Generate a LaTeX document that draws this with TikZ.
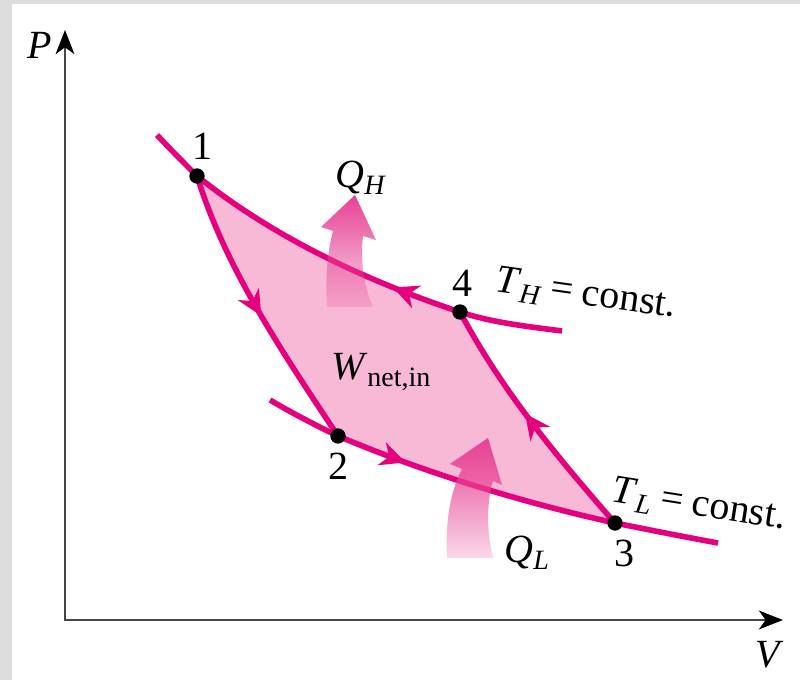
\documentclass[tikz,border=0pt]{standalone}
\usepackage{fontspec}
\setmainfont{Liberation Serif}
\usetikzlibrary{arrows.meta,decorations.markings,fadings}
\definecolor{mag}{RGB}{230,0,126}
\definecolor{pinkfill}{RGB}{247,185,214}
\definecolor{qpink}{RGB}{232,65,148}
\definecolor{axisgray}{RGB}{70,70,70}
\definecolor{framegray}{RGB}{221,221,221}
\tikzfading[name=qfade, top color=transparent!0, bottom color=transparent!80]
\tikzset{
  cyc/.style={draw=mag, line width=4.2pt},
  dot/.style={circle, fill=black, inner sep=0pt, minimum size=11.5pt},
  lbl/.style={font=\fontsize{30}{32}\selectfont, inner sep=0pt},
  axisline/.style={draw=axisgray, line width=2.2pt},
  axtip/.tip={Stealth[length=18pt,width=14pt,inset=5pt,color=black]},
  midarrow/.style={postaction={decorate, decoration={markings, mark=at position #1 with {\arrow{Stealth[length=19pt,width=18pt,inset=6pt,color=mag]}}}}},
  qarrow/.style={fill=qpink, path fading=qfade},
}
\begin{document}
\begin{tikzpicture}[x=0.75pt, y=-0.75pt]
\useasboundingbox (0,0) rectangle (800,680);
\fill[framegray] (0,0) rectangle (800,680);
\fill[white] (12,4) rectangle (800,680);
% axes
\coordinate (O) at (65,620);
\coordinate (ytip) at (65,30);
\coordinate (xtip) at (783,620);
\draw[axisline, axtip-axtip] (ytip) -- (O) -- (xtip);
% state points
\coordinate (c1) at (197,176);
\coordinate (c2) at (338,436);
\coordinate (c3) at (615,523);
\coordinate (c4) at (460,312);
\coordinate (th0) at (157,135);
\coordinate (th1) at (562,331);
\coordinate (tl0) at (270,400);
\coordinate (tl1) at (718,543);
% enclosed area
\fill[pinkfill] (c1) .. controls (225,266) and (278,346) .. (c2)
  .. controls (428,474) and (525,503) .. (c3)
  .. controls (549,448) and (499,385) .. (c4)
  .. controls (370,282) and (277,240) .. (c1) -- cycle;
% isotherm extensions
\draw[cyc] (th0) .. controls (170,149) and (184,163) .. (c1);
\draw[cyc] (c4) .. controls (493,323) and (532,327) .. (th1);
\draw[cyc] (tl0) .. controls (292,413) and (315,425) .. (c2);
\draw[cyc] (c3) .. controls (650,530) and (685,537) .. (tl1);
% cycle
\draw[cyc, midarrow=0.52] (c1) .. controls (225,266) and (278,346) .. (c2);
\draw[cyc, midarrow=0.25] (c2) .. controls (428,474) and (525,503) .. (c3);
\draw[cyc, midarrow=0.54] (c3) .. controls (549,448) and (499,385) .. (c4);
\draw[cyc, midarrow=0.24] (c4) .. controls (370,282) and (277,240) .. (c1);
% heat arrows
\path[qarrow] (327,307) .. controls (325,275) and (328,250) .. (333,231) -- (321,227) -- (355,195) -- (376,240) -- (363,236) .. controls (360,260) and (364,287) .. (373,307) -- cycle;
\path[qarrow] (447,558) .. controls (445,520) and (451,490) .. (462,469) -- (450,464) -- (488,438) -- (502,485) -- (493,481) .. controls (487,500) and (486,530) .. (493,558) -- cycle;
% dots
\node[dot] (p1) at (c1) {};
\node[dot] (p2) at (c2) {};
\node[dot] (p3) at (c3) {};
\node[dot] (p4) at (c4) {};
% labels
\node[lbl] (lP) at (40,45) {\textit{P}};
\node[lbl] (lV) at (770,655) {\textit{V}};
\node[lbl] (l1) at (202,146) {1};
\node[lbl] (l2) at (338,466) {2};
\node[lbl] (l3) at (624,553) {3};
\node[lbl] (l4) at (462,283) {4};
\node[lbl] (lqh) at (361,178) {\textit{Q}\textsubscript{\textit{H}}};
\node[lbl] (lql) at (527,553) {\textit{Q}\textsubscript{\textit{L}}};
\node[lbl] (lw) at (381,372) {\textit{W}\textsubscript{net,in}};
\node[lbl, rotate=-8] (lth) at (586,295) {\textit{T}\textsubscript{\textit{H}}\hspace{0.22em}=\hspace{0.22em}const.};
\node[lbl, rotate=-9] (ltl) at (699,506) {\textit{T}\textsubscript{\textit{L}}\hspace{0.22em}=\hspace{0.22em}const.};
\end{tikzpicture}
\end{document}
